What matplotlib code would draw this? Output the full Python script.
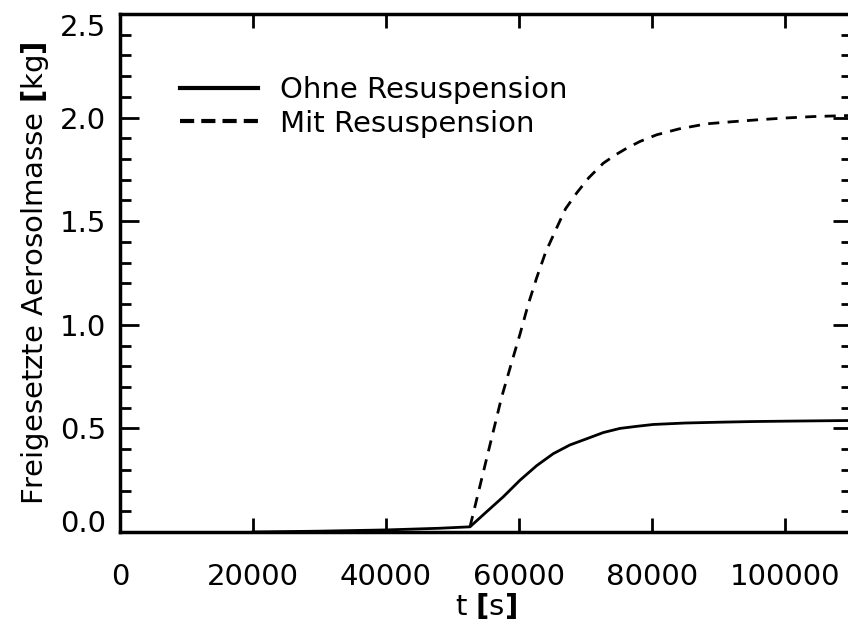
import matplotlib
matplotlib.use('Agg')
import matplotlib.pyplot as plt
from matplotlib.ticker import MultipleLocator

# released aerosol mass [kg] over time [s]
t_ohne = [20000, 30000, 40000, 48000, 52630, 55140, 57640, 60150, 62650, 65150,
          67650, 70180, 72680, 75190, 77700, 80200, 85000, 90230, 95000, 100250, 109470]
m_ohne = [0.0, 0.004, 0.010, 0.018, 0.025, 0.098, 0.17, 0.25, 0.32, 0.378,
          0.42, 0.45, 0.48, 0.50, 0.51, 0.519, 0.526, 0.530, 0.533, 0.535, 0.538]

t_mit = [52630, 55000, 57390, 59000, 60150, 61400, 62660, 64000, 65670, 67000,
         68670, 70500, 72680, 74500, 76190, 78200, 80700, 84000, 88220, 92000,
         95740, 100000, 104260, 109470]
m_mit = [0.025, 0.337, 0.651, 0.83, 0.955, 1.10, 1.227, 1.35, 1.468, 1.56,
         1.636, 1.71, 1.780, 1.82, 1.852, 1.885, 1.917, 1.945, 1.970, 1.98,
         1.989, 1.998, 2.005, 2.01]

yticks = [0.0, 0.5, 1.0, 1.5, 2.0, 2.5]
xticks = [0, 20000, 40000, 60000, 80000, 100000]

plt.rcParams['font.family'] = 'DejaVu Sans'
plt.rcParams['mathtext.fontset'] = 'dejavusans'

fig = plt.figure(figsize=(8.48, 6.21), dpi=100)
ax = fig.add_axes([120 / 848, 89 / 621, 731.5 / 848, 518 / 621])

ax.plot(t_ohne, m_ohne, color='black', lw=2, label='Ohne Resuspension')
ax.plot(t_mit, m_mit, color='black', lw=2, ls=(0, (4, 3)), label='Mit Resuspension')

ax.set_xlim(0, 110000)
ax.set_ylim(0, 2.5)
ax.set_xticks(xticks)
ax.set_yticks(yticks)
ax.set_yticklabels(['%.1f' % v for v in yticks])
ax.yaxis.set_minor_locator(MultipleLocator(0.1))

ax.tick_params(axis='both', which='both', direction='in', top=True, right=True,
               labelsize=21, width=2)
ax.tick_params(axis='x', which='major', length=10, pad=22)
ax.tick_params(axis='y', which='major', length=14, pad=10)
ax.tick_params(axis='y', which='minor', length=8)
for s in ax.spines.values():
    s.set_linewidth(2.5)

ax.set_xlabel(r't $\mathbf{[}$s$\mathbf{]}$', fontsize=21, labelpad=0)
ax.set_ylabel(r'Freigesetzte Aerosolmasse $\mathbf{[}$kg$\mathbf{]}$', fontsize=21, labelpad=6)

leg = ax.legend(loc='upper left', bbox_to_anchor=(0.082, 0.88), frameon=False,
                fontsize=21, handlelength=2.67, handletextpad=0.75, labelspacing=0.185,
                borderaxespad=0, borderpad=0)
h_solid, h_dash = leg.get_lines()
h_solid.set_linewidth(3)
h_dash.set_linewidth(3)
h_dash.set_linestyle((0, (3.4, 1.7)))

# IDL-style: end labels kept inside the axis range
labels = ax.get_yticklabels()
labels[0].set_va('baseline')
labels[-1].set_va('top')

fig.savefig('out.png', dpi=100)
